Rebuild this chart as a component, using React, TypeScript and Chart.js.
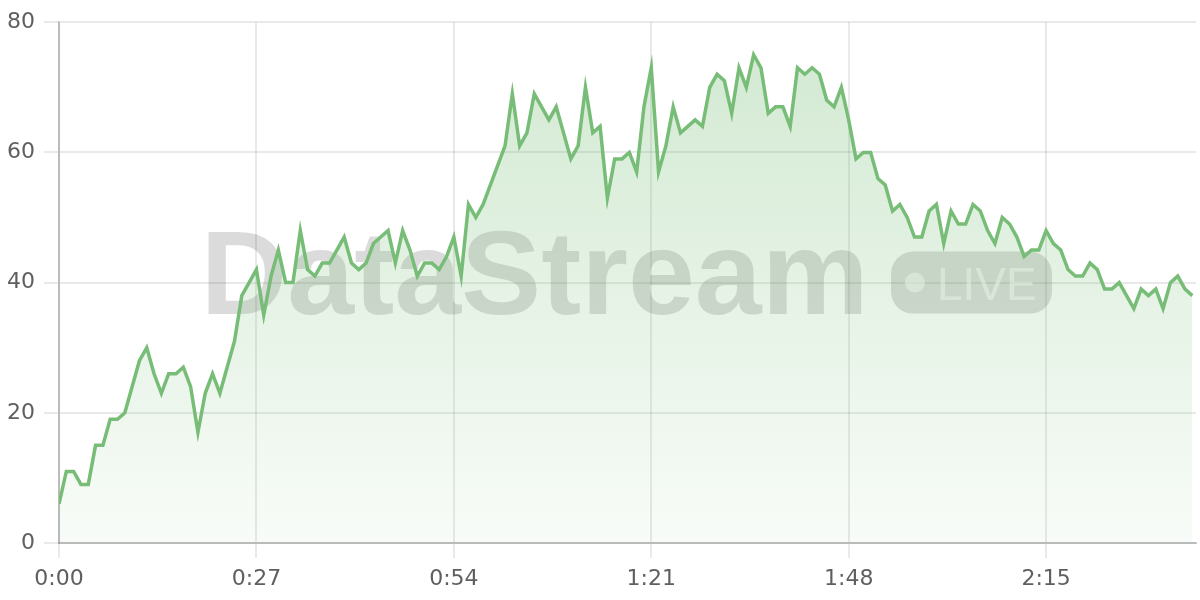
import React, { useEffect, useRef } from "react";
import { Chart, registerables } from "chart.js";

Chart.register(...registerables);

// one sample per second, starting at 0:00
const values: number[] = [
  6, 11, 11, 9, 9, 15, 15, 19, 19, 20,
  24, 28, 30, 26, 23, 26, 26, 27, 24, 17,
  23, 26, 23, 27, 31, 38, 40, 42, 35, 41,
  45, 40, 40, 48, 42, 41, 43, 43, 45, 47,
  43, 42, 43, 46, 47, 48, 43, 48, 45, 41,
  43, 43, 42, 44, 47, 41, 52, 50, 52, 55,
  58, 61, 69, 61, 63, 69, 67, 65, 67, 63,
  59, 61, 70, 63, 64, 53, 59, 59, 60, 57,
  67, 73, 57, 61, 67, 63, 64, 65, 64, 70,
  72, 71, 66, 73, 70, 75, 73, 66, 67, 67,
  64, 73, 72, 73, 72, 68, 67, 70, 65, 59,
  60, 60, 56, 55, 51, 52, 50, 47, 47, 51,
  52, 46, 51, 49, 49, 52, 51, 48, 46, 50,
  49, 47, 44, 45, 45, 48, 46, 45, 42, 41,
  41, 43, 42, 39, 39, 40, 38, 36, 39, 38,
  39, 36, 40, 41, 39, 38,
];
const sampleSeconds: number[] = values.map((_, i) => i);
const xTickSeconds: number[] = [0, 27, 54, 81, 108, 135];
const yTickValues: number[] = [0, 20, 40, 60, 80];
const xMaxSeconds = 155.5;
const watermarkText = "DataStream";
const badgeText = "LIVE";

const LINE = "rgb(119,189,119)";

function fmtTime(v: number): string {
  const s = Math.round(v);
  return `${Math.floor(s / 60)}:${String(s % 60).padStart(2, "0")}`;
}

const watermarkPlugin = {
  id: "watermark",
  beforeDatasetsDraw(chart: any) {
    const { ctx, chartArea: a } = chart;
    const cx = (a.left + a.right) / 2;
    const cy = (a.top + a.bottom) / 2;
    ctx.save();
    ctx.fillStyle = "rgba(0,0,0,0.14)";
    ctx.font = 'bold 118px "Liberation Sans", Arial, sans-serif';
    ctx.textBaseline = "alphabetic";
    ctx.textAlign = "left";
    const baseline = cy + 31;
    const tw = ctx.measureText(watermarkText).width;
    const sx = 668 / tw;
    const tx = cx - 427;
    ctx.save();
    ctx.translate(tx, baseline);
    ctx.scale(sx, 1);
    ctx.fillText(watermarkText, 0, 0);
    ctx.restore();
    const bx = cx + 263.5;
    const bw = 161;
    const bh = 62;
    const by = baseline - bh;
    ctx.beginPath();
    ctx.roundRect(bx, by, bw, bh, 22);
    ctx.fill();
    ctx.fillStyle = "rgba(255,255,255,0.55)";
    ctx.beginPath();
    ctx.arc(bx + 24, by + bh / 2, 10, 0, Math.PI * 2);
    ctx.fill();
    ctx.font = '46px "Liberation Sans", Arial, sans-serif';
    ctx.fillText(badgeText, bx + 46, by + 48);
    ctx.restore();
  },
};

export default function App() {
  const ref = useRef<HTMLCanvasElement | null>(null);

  useEffect(() => {
    if (!ref.current) return;
    const tickFont = { family: '"DejaVu Sans", sans-serif', size: 22 };
    const chart = new Chart(ref.current, {
      type: "line",
      data: {
        datasets: [
          {
            data: sampleSeconds.map((t, i) => ({ x: t, y: values[i] })),
            borderColor: LINE,
            borderWidth: 3.5,
            pointRadius: 0,
            tension: 0,
            fill: "origin",
            backgroundColor: (c: any) => {
              const a = c.chart.chartArea;
              if (!a) return "rgba(119,189,119,0.15)";
              const g = c.chart.ctx.createLinearGradient(0, a.top, 0, a.bottom);
              g.addColorStop(0, "rgba(119,189,119,0.34)");
              g.addColorStop(1, "rgba(119,189,119,0.05)");
              return g;
            },
          },
        ],
      },
      options: {
        responsive: false,
        animation: false,
        devicePixelRatio: 1,
        layout: { padding: { top: 20, right: 4, bottom: 0, left: 0 } },
        plugins: { legend: { display: false }, tooltip: { enabled: false } },
        scales: {
          x: {
            type: "linear",
            min: 0,
            max: xMaxSeconds,
            afterBuildTicks: (s: any) => {
              s.ticks = xTickSeconds.map((v) => ({ value: v }));
            },
            afterFit: (s: any) => {
              s.height = 57;
            },
            grid: { color: "rgba(0,0,0,0.085)", lineWidth: 2, tickLength: 15 },
            border: { color: "rgba(0,0,0,0.2)", width: 2 },
            ticks: {
              callback: (v: any) => fmtTime(Number(v)),
              color: "#5f5f5f",
              font: tickFont,
              padding: 8,
              maxRotation: 0,
              autoSkip: false,
            },
          },
          y: {
            min: 0,
            max: 80,
            afterBuildTicks: (s: any) => {
              s.ticks = yTickValues.map((v) => ({ value: v }));
            },
            afterFit: (s: any) => {
              s.width = 59;
            },
            grid: { color: "rgba(0,0,0,0.085)", lineWidth: 2, tickLength: 15 },
            border: { color: "rgba(0,0,0,0.2)", width: 2 },
            ticks: { color: "#5f5f5f", font: tickFont, padding: 9 },
          },
        },
      },
      plugins: [watermarkPlugin],
    } as any);
    return () => chart.destroy();
  }, []);

  return (
    <div style={{ position: "fixed", left: 0, top: 0, width: 1200, height: 600, background: "#fff" }}>
      <canvas ref={ref} width={1200} height={600} style={{ display: "block" }} />
    </div>
  );
}
